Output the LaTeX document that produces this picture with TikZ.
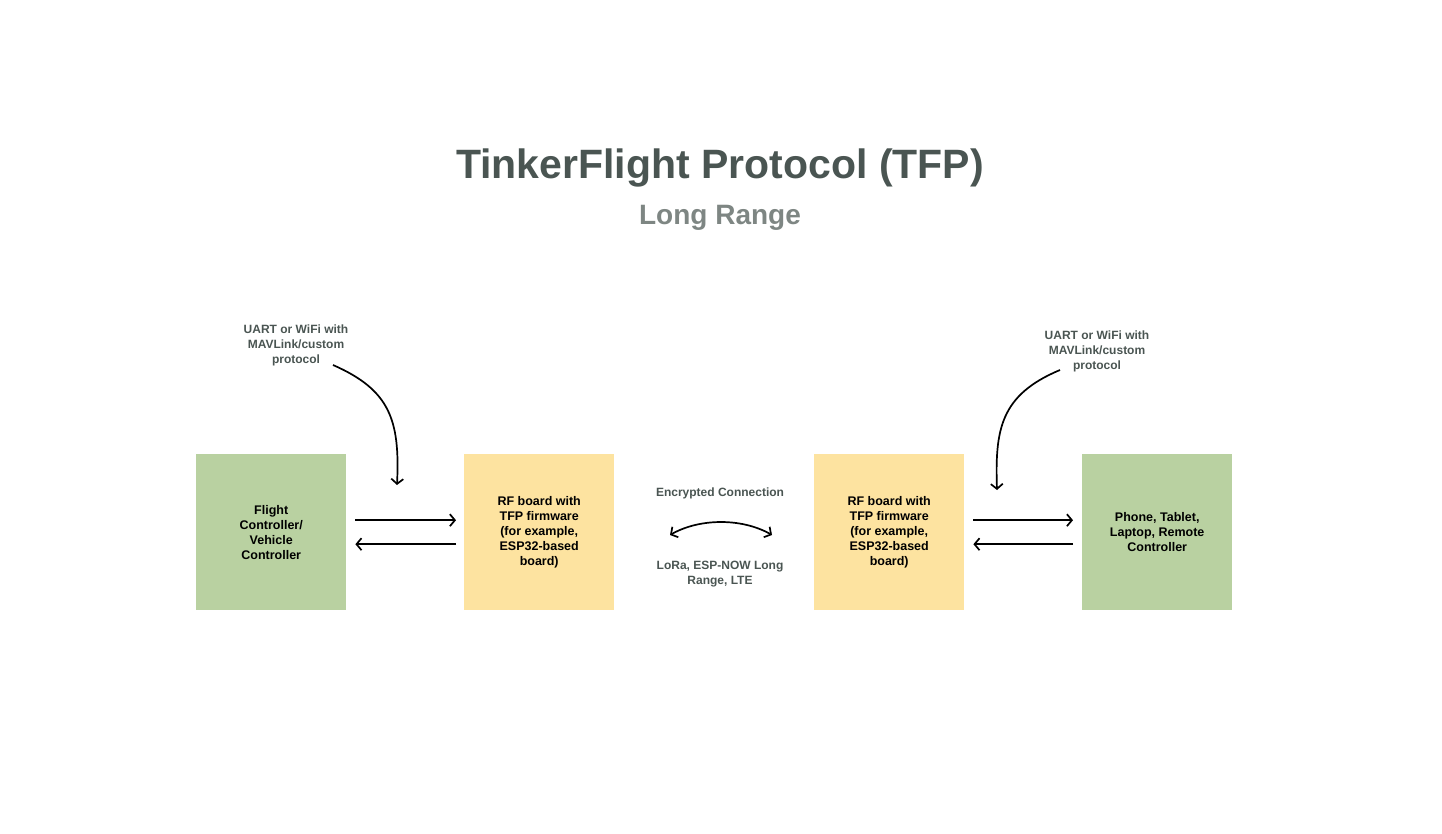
\documentclass[tikz,border=0pt]{standalone}
\usepackage{fontspec}
\setmainfont{Liberation Sans}
\usetikzlibrary{arrows.meta}
\definecolor{titlec}{HTML}{4A5552}
\definecolor{subc}{HTML}{7E8683}
\definecolor{greenbox}{HTML}{B9D1A1}
\definecolor{yellowbox}{HTML}{FDE3A0}
\begin{document}
\begin{tikzpicture}[x=1pt,y=-1pt,
  box/.style={minimum width=150pt,minimum height=156pt,inner sep=0pt,anchor=north west,
    align=center,font=\bfseries\fontsize{12.5}{15}\selectfont,text=black},
  gbox/.style={box,fill=greenbox},
  ybox/.style={box,fill=yellowbox},
  lbl/.style={align=center,font=\bfseries\fontsize{12}{15}\selectfont,text=titlec},
  tip/.tip={Straight Barb[length=5pt,width=12pt]},
  conn/.style={line width=1.7pt,-tip},
  conn2/.style={line width=1.7pt,tip-tip}]
\useasboundingbox (0,0) rectangle (1442,834);
\node[font=\bfseries\fontsize{41}{48}\selectfont,text=titlec] (title) at (720,168) {TinkerFlight Protocol (TFP)};
\node[font=\bfseries\fontsize{28}{32}\selectfont,text=subc] (sub) at (720,218) {Long Range};

\node[gbox] (fc) at (196,454) {Flight\\Controller/\\Vehicle\\Controller};
\node[ybox] (rf1) at (464,454) {RF board with\\TFP firmware\\(for example,\\ESP32-based\\board)};
\node[ybox] (rf2) at (814,454) {RF board with\\TFP firmware\\(for example,\\ESP32-based\\board)};
\node[gbox] (ph) at (1082,454) {Phone, Tablet,\\Laptop, Remote\\Controller};

\node[lbl] (l1) at (296,345) {UART or WiFi with\\MAVLink/custom\\protocol};
\node[lbl] (l2) at (1097,351) {UART or WiFi with\\MAVLink/custom\\protocol};
\node[lbl] (enc) at (720,493) {Encrypted Connection};
\node[lbl] (lora) at (720,574) {LoRa, ESP-NOW Long\\Range, LTE};

\coordinate (a1s) at (333,365);
\coordinate (a1e) at (397,485);
\coordinate (a2s) at (1060,370);
\coordinate (a2e) at (997,490);
\coordinate (ms) at (670,535);
\coordinate (me) at (772,535);

\draw[conn] (a1s) .. controls (390,390) and (400,420) .. (a1e);
\draw[conn] (a2s) .. controls (1000,395) and (995,430) .. (a2e);
\draw[conn2] (ms) .. controls (700,518) and (742,518) .. (me);

\draw[conn] ([xshift=9pt,yshift=12pt]fc.east) -- ([xshift=-8pt,yshift=12pt]rf1.west);
\draw[conn] ([xshift=-8pt,yshift=-12pt]rf1.west) -- ([xshift=9pt,yshift=-12pt]fc.east);
\draw[conn] ([xshift=9pt,yshift=12pt]rf2.east) -- ([xshift=-9pt,yshift=12pt]ph.west);
\draw[conn] ([xshift=-9pt,yshift=-12pt]ph.west) -- ([xshift=9pt,yshift=-12pt]rf2.east);
\end{tikzpicture}
\end{document}
